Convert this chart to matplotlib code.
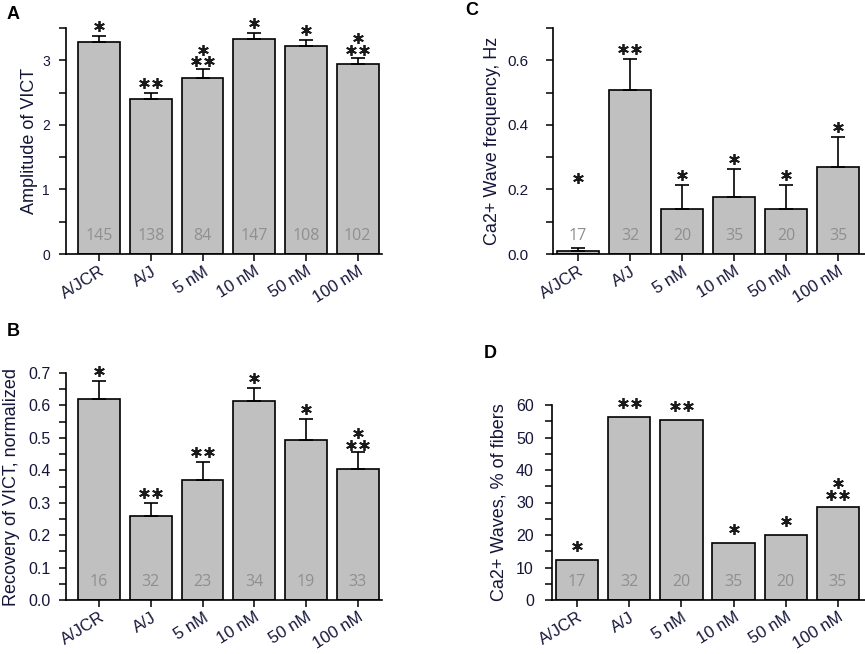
import numpy as np
import matplotlib.pyplot as plt
from matplotlib import transforms
from matplotlib.ticker import MultipleLocator, FormatStrFormatter

plt.rcParams['font.family'] = ['Liberation Sans', 'DejaVu Sans']

groups = ['A/JCR', 'A/J', '5 nM', '10 nM', '50 nM', '100 nM']

# A: amplitude of VICT
amp_mean = [3.28, 2.40, 2.73, 3.33, 3.22, 2.95]
amp_err = [0.09, 0.10, 0.13, 0.09, 0.09, 0.09]
amp_n = [145, 138, 84, 147, 108, 102]
amp_stars = [1, 2, 3, 1, 1, 3]

# B: recovery of VICT
rec_mean = [0.620, 0.259, 0.370, 0.614, 0.494, 0.404]
rec_err = [0.056, 0.039, 0.057, 0.039, 0.064, 0.051]
rec_n = [16, 32, 23, 34, 19, 33]
rec_stars = [1, 2, 2, 1, 1, 3]

# C: Ca2+ wave frequency
freq_mean = [0.008, 0.507, 0.139, 0.178, 0.139, 0.271]
freq_err = [0.010, 0.098, 0.075, 0.085, 0.075, 0.090]
freq_n = [17, 32, 20, 35, 20, 35]
freq_stars = [1, 2, 1, 1, 1, 1]
FLOAT_STAR_C = 0.205  # the A/JCR star in C sits well above its bar

# D: % of fibers with waves
pct_mean = [12.2, 56.2, 55.4, 17.5, 20.0, 28.7]
pct_n = [17, 32, 20, 35, 20, 35]
pct_stars = [1, 2, 2, 1, 1, 3]

W, H = 865, 654
TXT = '#15153a'
fig = plt.figure(figsize=(W / 100, H / 100), dpi=100)


def px_rect(l, t, r, b):
    return [l / W, (H - b) / H, (r - l) / W, (b - t) / H]


def draw_stars(ax, x, base, kind, lift):
    if kind == 1:
        pts = [(0, lift)]
    elif kind == 2:
        pts = [(-4.7, lift), (4.7, lift)]
    else:
        pts = [(-4.7, lift - 1.5), (4.7, lift - 1.5), (0, lift + 6.8)]
    for dx, dy in pts:
        tr = ax.transData + transforms.ScaledTranslation(dx / 72, dy / 72, fig.dpi_scale_trans)
        ax.plot([x], [base], marker=(6, 2, 0), ms=7.8, mew=1.3, color='#1a1a1a',
                transform=tr, clip_on=False, zorder=5)


def panel(rect, means, errs, ns, stars, ylim, major, minor, fmt, ylabel,
          xlim, ytick_size, tick_pad, label_pad, letter, letter_xy, lift=7.2, star_base=None):
    ax = fig.add_axes(px_rect(*rect))
    x = np.arange(len(groups))
    ax.bar(x, means, width=0.81, color='#c0c0c0', edgecolor='black', linewidth=1.2, zorder=2)
    if errs is not None:
        ax.errorbar(x, means, yerr=[np.zeros(len(errs)), errs], fmt='none', ecolor='black',
                    elinewidth=1.2, capsize=5, capthick=1.2, zorder=3)
        tops = np.array(means) + np.array(errs)
    else:
        tops = np.array(means)
    for i, k in enumerate(stars):
        base = tops[i]
        if star_base is not None and star_base[i] is not None:
            base = star_base[i]
        draw_stars(ax, x[i], base, k, lift)
    for i, n in enumerate(ns):
        ax.annotate(str(n), (x[i], 0), xytext=(0, 13), textcoords='offset points',
                    ha='center', va='center', color='#8f8f8f', fontsize=11.5,
                    family=['Open Sans', 'DejaVu Sans'], zorder=4)
    ax.set_xlim(*xlim)
    ax.set_ylim(*ylim)
    ax.set_xticks(x)
    ax.set_xticklabels(groups, rotation=32, ha='right', rotation_mode='anchor',
                       fontsize=12, color=TXT)
    ax.yaxis.set_major_locator(MultipleLocator(major))
    ax.yaxis.set_minor_locator(MultipleLocator(minor))
    ax.yaxis.set_major_formatter(FormatStrFormatter(fmt))
    ax.tick_params(axis='y', which='both', direction='out', length=5, width=1.1,
                   labelsize=ytick_size, labelcolor=TXT, pad=tick_pad)
    ax.tick_params(axis='x', direction='out', length=5, width=1.1, pad=2)
    for s in ['top', 'right']:
        ax.spines[s].set_visible(False)
    for s in ['left', 'bottom']:
        ax.spines[s].set_linewidth(1.2)
    ax.set_ylabel(ylabel, fontsize=13, color=TXT, labelpad=label_pad)
    fig.text(letter_xy[0] / W, 1 - letter_xy[1] / H, letter, fontsize=13,
             fontweight='bold', ha='left', va='top')
    return ax


panel((66, 28, 382, 254), amp_mean, amp_err, amp_n, amp_stars, (0, 3.5), 1, 0.5, '%d',
      'Amplitude of VICT', (-0.64, 5.47), 10, 6.5, 3, 'A', (7, 6))

panel((66, 373, 382, 600), rec_mean, rec_err, rec_n, rec_stars, (0, 0.7), 0.1, 0.05, '%.1f',
      'Recovery of VICT, normalized', (-0.64, 5.47), 11.5, 6, 6, 'B', (7, 323))

panel((553, 28, 865, 254), freq_mean, freq_err, freq_n, freq_stars, (0, 0.7), 0.2, 0.1, '%.1f',
      'Ca2+ Wave frequency, Hz', (-0.48, 5.52), 11, 13, 4, 'C', (465, 2),
      star_base=[FLOAT_STAR_C, None, None, None, None, None])

panel((552, 405, 865, 600), pct_mean, None, pct_n, pct_stars, (0, 60), 10, 5, '%d',
      'Ca2+ Waves, % of fibers', (-0.48, 5.52), 11.5, 8, 6, 'D', (484, 345), lift=10)

fig.savefig('out.png', dpi=100)
